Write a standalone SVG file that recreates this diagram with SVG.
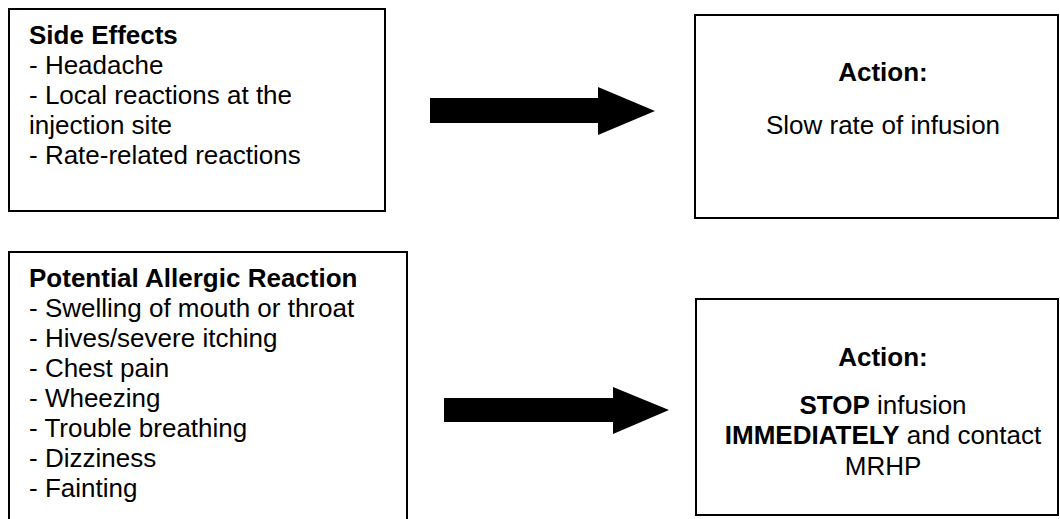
<svg xmlns="http://www.w3.org/2000/svg" width="1060" height="519" viewBox="0 0 1060 519">
<style>
.box{fill:#fff;stroke:#000;stroke-width:2}
.t{font-family:"Liberation Sans",Arial,sans-serif;font-size:26px;fill:#000}
.b{font-weight:bold}
.c{text-anchor:middle}
.arrow{fill:#000}
</style>
<rect width="1060" height="519" fill="#fff"/>
<g id="side-effects">
<rect class="box" x="9" y="9" width="376" height="202"/>
<text class="t" x="29" y="44"><tspan class="b">Side Effects</tspan></text>
<text class="t" x="29" y="74">- Headache</text>
<text class="t" x="29" y="104">- Local reactions at the</text>
<text class="t" x="29" y="134">injection site</text>
<text class="t" x="29" y="164">- Rate-related reactions</text>
</g>
<g id="action-slow">
<rect class="box" x="695" y="15" width="363" height="203"/>
<text class="t b c" x="883" y="81">Action:</text>
<text class="t c" x="883" y="134">Slow rate of infusion</text>
</g>
<g id="allergic-reaction">
<rect class="box" x="9" y="252" width="398" height="300"/>
<text class="t b" x="29" y="287">Potential Allergic Reaction</text>
<text class="t" x="29" y="317">- Swelling of mouth or throat</text>
<text class="t" x="29" y="347">- Hives/severe itching</text>
<text class="t" x="29" y="377">- Chest pain</text>
<text class="t" x="29" y="407">- Wheezing</text>
<text class="t" x="29" y="437">- Trouble breathing</text>
<text class="t" x="29" y="467">- Dizziness</text>
<text class="t" x="29" y="497">- Fainting</text>
</g>
<g id="action-stop">
<rect class="box" x="696" y="299" width="362" height="216"/>
<text class="t b c" x="883" y="366">Action:</text>
<text class="t c" x="883" y="414"><tspan class="b">STOP</tspan> infusion</text>
<text class="t c" x="883" y="444"><tspan class="b">IMMEDIATELY</tspan> and contact</text>
<text class="t c" x="883" y="475">MRHP</text>
</g>
<g id="connectors">
<polygon class="arrow" points="430,98 598,98 598,87 655,111 598,135 598,123 430,123"/>
<polygon class="arrow" points="444,398 613,398 613,387 669,410 613,434 613,422 444,422"/>
</g>
</svg>
